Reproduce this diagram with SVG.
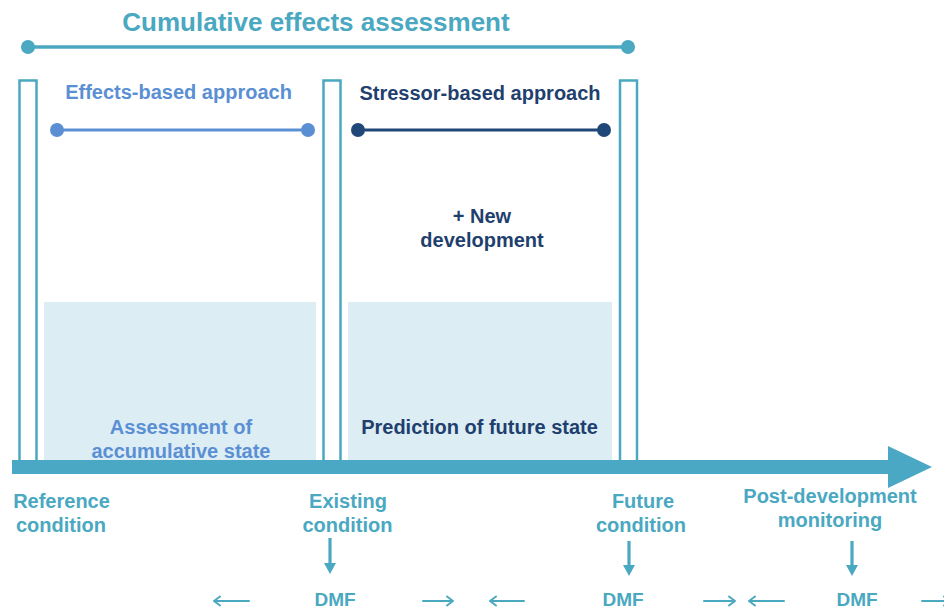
<svg xmlns="http://www.w3.org/2000/svg" width="944" height="612" viewBox="0 0 944 612">
<defs>
<style>
text{font-family:"Liberation Sans","DejaVu Sans",Arial,sans-serif;font-weight:bold;text-anchor:middle;font-size:20px}
.teal{fill:#4aa8c1}
.blue{fill:#5b8fd4}
.navy{fill:#1f3f6e}
.pillar{fill:none;stroke:#4aa8c1;stroke-width:2.5}
.zone{fill:#dcedf4}
.dn{stroke:#4aa8c1;stroke-width:3.2;fill:none}
.head{fill:#4aa8c1}
.sm{stroke:#4aa8c1;stroke-width:2;fill:none;stroke-linecap:round;stroke-linejoin:round}
</style>
</defs>
<rect width="944" height="612" fill="#ffffff"/>

<g id="zones">
<rect class="zone" x="44" y="302" width="272" height="159"/>
<rect class="zone" x="348" y="302" width="264" height="159"/>
</g>

<g id="pillars">
<path class="pillar" d="M19.5,461 V80.5 H36.5 V461"/>
<path class="pillar" d="M323.5,461 V80.5 H340.5 V461"/>
<path class="pillar" d="M620,461 V80.5 H637 V461"/>
</g>

<g id="cea">
<text class="teal" x="316" y="31" style="font-size:26px">Cumulative effects assessment</text>
<line x1="28" y1="47" x2="628" y2="47" stroke="#4aa8c1" stroke-width="3.5"/>
<circle cx="28" cy="47" r="7" fill="#4aa8c1"/>
<circle cx="628" cy="47" r="7" fill="#4aa8c1"/>
</g>

<g id="effects-based">
<text class="blue" x="178.5" y="99">Effects-based approach</text>
<line x1="57" y1="130" x2="308" y2="130" stroke="#5b8fd4" stroke-width="3"/>
<circle cx="57" cy="130" r="7" fill="#5b8fd4"/>
<circle cx="308" cy="130" r="7" fill="#5b8fd4"/>
</g>

<g id="stressor-based">
<text class="navy" x="480" y="100">Stressor-based approach</text>
<line x1="358" y1="130" x2="604" y2="130" stroke="#1f4878" stroke-width="3"/>
<circle cx="358" cy="130" r="7" fill="#1f4878"/>
<circle cx="604" cy="130" r="7" fill="#1f4878"/>
</g>

<g id="new-development">
<text class="navy" x="482" y="223">+ New</text>
<text class="navy" x="482" y="247">development</text>
</g>

<g id="assessment">
<text class="blue" x="181" y="434">Assessment of</text>
<text class="blue" x="181" y="458">accumulative state</text>
</g>

<g id="prediction">
<text class="navy" x="479.5" y="434">Prediction of future state</text>
</g>

<g id="timeline">
<path d="M12,460 H888 V446 L932,467 L888,488 V474 H12 Z" fill="#4aa8c4"/>
</g>

<g id="reference-condition">
<text class="teal" x="61.5" y="508">Reference</text>
<text class="teal" x="61" y="532">condition</text>
</g>

<g id="existing-condition">
<text class="teal" x="348" y="508">Existing</text>
<text class="teal" x="347.5" y="532">condition</text>
<text class="teal" x="335" y="606" style="font-size:19px">DMF</text>
</g>

<g id="future-condition">
<text class="teal" x="643" y="508">Future</text>
<text class="teal" x="641" y="532">condition</text>
<text class="teal" x="623" y="606" style="font-size:19px">DMF</text>
</g>

<g id="post-development">
<text class="teal" x="830" y="503">Post-development</text>
<text class="teal" x="830" y="527">monitoring</text>
<text class="teal" x="857" y="606" style="font-size:19px">DMF</text>
</g>

<g id="connectors">
<line class="dn" x1="330" y1="538" x2="330" y2="564"/>
<path class="head" d="M324,563 H336 L330,574 Z"/>
<line class="dn" x1="629" y1="541" x2="629" y2="566"/>
<path class="head" d="M623,565 H635 L629,576 Z"/>
<line class="dn" x1="852" y1="541" x2="852" y2="566"/>
<path class="head" d="M846,565 H858 L852,576 Z"/>
<path class="sm" d="M249,601 H214 M220,596.5 L214,601 L220,605.5"/>
<path class="sm" d="M423,601 H453 M447,596.5 L453,601 L447,605.5"/>
<path class="sm" d="M524,601 H490 M496,596.5 L490,601 L496,605.5"/>
<path class="sm" d="M704,601 H735 M729,596.5 L735,601 L729,605.5"/>
<path class="sm" d="M784,601 H749 M755,596.5 L749,601 L755,605.5"/>
<path class="sm" d="M922,601 H950 M944,596.5 L950,601 L944,605.5"/>
</g>
</svg>
